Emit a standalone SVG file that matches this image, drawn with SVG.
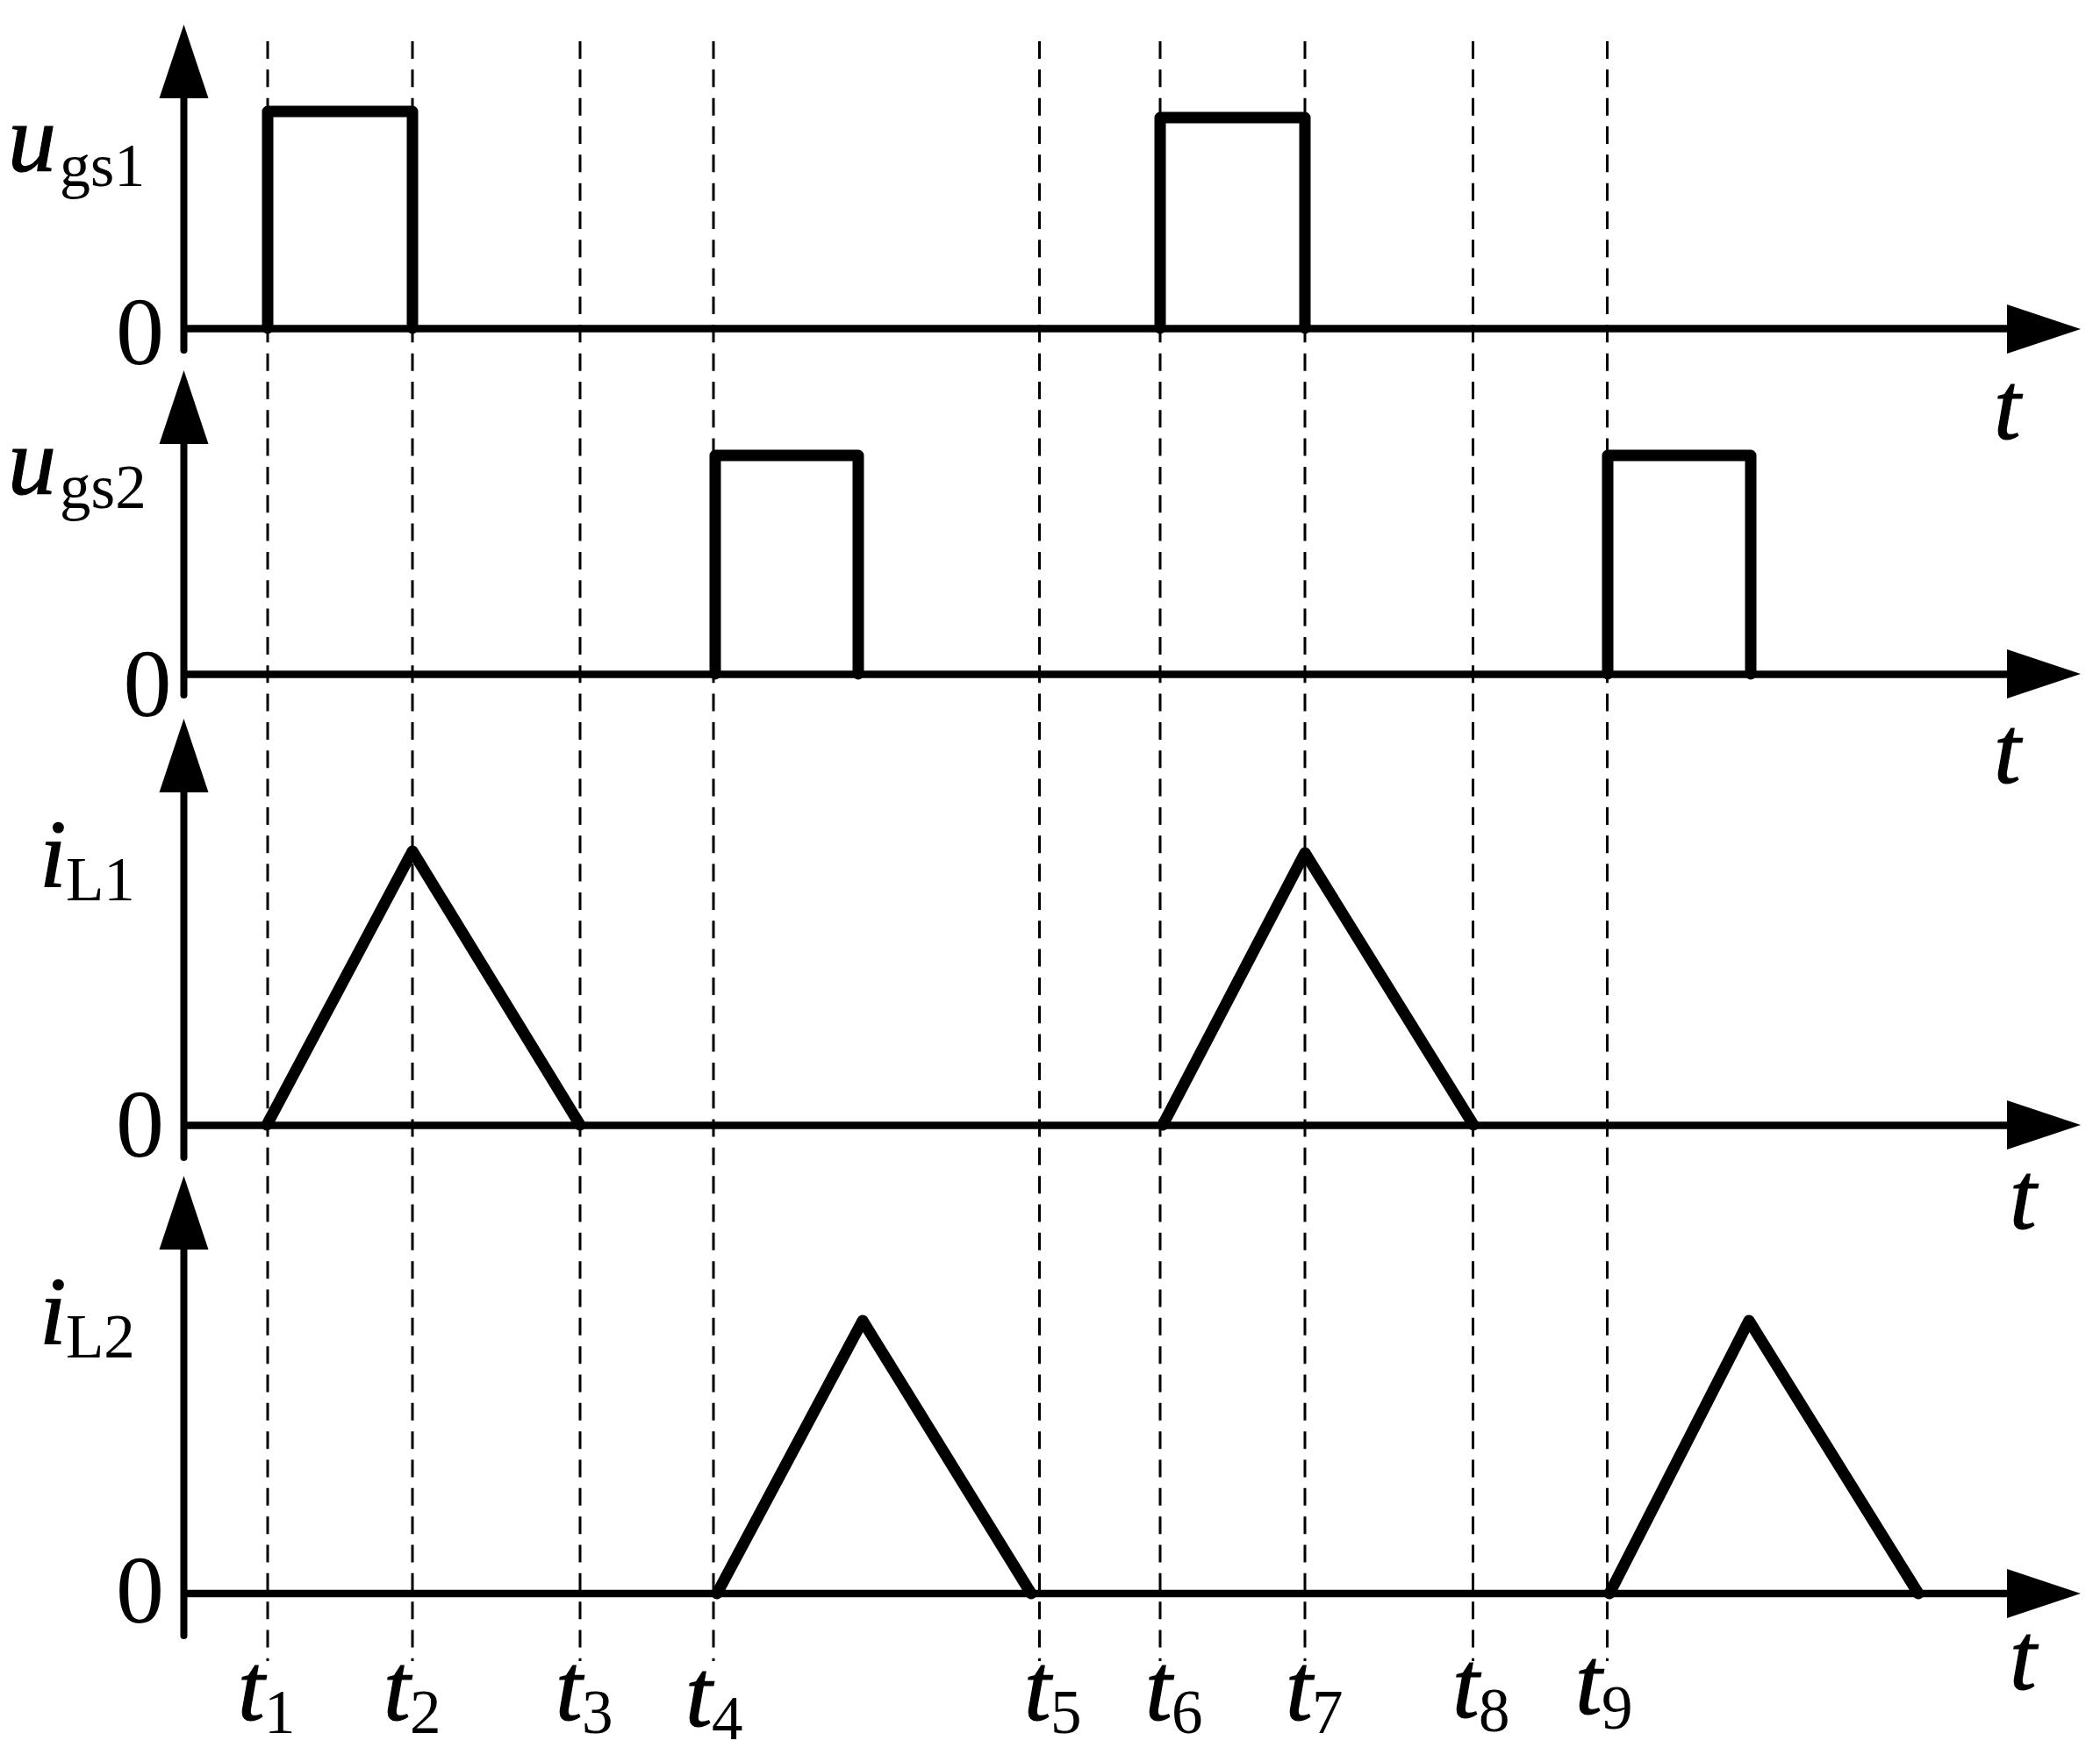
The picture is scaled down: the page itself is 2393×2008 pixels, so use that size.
<svg xmlns="http://www.w3.org/2000/svg" width="2393" height="2008" viewBox="0 0 2393 2008">
<style>
.d{stroke:#000;stroke-width:3;stroke-dasharray:20 12.330;fill:none}
.a{stroke:#000;stroke-width:8;fill:none;stroke-linecap:round}
.h{stroke:#000;stroke-width:8.500;fill:none}
.w{stroke:#000;stroke-width:13;fill:none;stroke-linejoin:round;stroke-linecap:round}
text{font-family:"Liberation Serif","Times New Roman",serif;fill:#000}
.m{font-size:110px;font-style:italic;stroke:#000;stroke-width:1.200}
.z{font-size:110px}
.s{font-size:71px}
</style>
<defs>
<polygon id="up" points="0,-84 28,0 -28,0" fill="#000"/>
<polygon id="rt" points="84,0 0,-28 0,28" fill="#000"/>
</defs>
<rect width="2393" height="2008" fill="#fff"/>
<g id="guides">
<path class="d" d="M305 47V1893M470 47V1893M661 47V1893M813 47V1893M1184.500 47V1893M1322 47V1893M1487 47V1893M1678.500 47V1893M1831.500 47V1893"/>
</g>
<g id="panel-ugs1">
<path class="a" d="M209.500 110V399"/><path class="h" d="M209.500 374.500H2290"/>
<use href="#up" x="209.500" y="112"/><use href="#rt" x="2287" y="375"/>
<path class="w" d="M305 374V127H470V374M1322 374V134H1487V374"/>
<text class="m" x="9" y="195">u</text><text class="s" style="font-size:70px" x="68" y="212">gs1</text>
<text class="z" x="132" y="415">0</text>
<text class="m" x="2272" y="500">t</text>
</g>
<g id="panel-ugs2">
<path class="a" d="M209.500 500V792"/><path class="h" d="M209.500 768.500H2290"/>
<use href="#up" x="209.500" y="506"/><use href="#rt" x="2287" y="768"/>
<path class="w" d="M815 768V519H978V768M1832 768V519H1995V768"/>
<text class="m" x="9" y="563">u</text><text class="s" x="68" y="579">gs2</text>
<text class="z" x="140.500" y="816">0</text>
<text class="m" x="2272" y="892">t</text>
</g>
<g id="panel-il1">
<path class="a" d="M209.500 900V1319"/><path class="h" d="M209.500 1282.500H2290"/>
<use href="#up" x="209.500" y="903"/><use href="#rt" x="2287" y="1282"/>
<path class="w" d="M304 1282L470 970L661 1282M1325 1282L1487 972L1679 1282"/>
<text class="m" x="45" y="1010">i</text><text class="s" x="75" y="1026">L1</text>
<text class="z" x="132" y="1318">0</text>
<text class="m" x="2290" y="1400">t</text>
</g>
<g id="panel-il2">
<path class="a" d="M209.500 1420V1864"/><path class="h" d="M209.500 1816H2290"/>
<use href="#up" x="209.500" y="1424"/><use href="#rt" x="2287" y="1816"/>
<path class="w" d="M817 1816L983 1505L1175 1816M1834 1816L1993 1505L2186 1816"/>
<text class="m" x="45" y="1531">i</text><text class="s" x="75" y="1547">L2</text>
<text class="z" x="132" y="1849">0</text>
<text class="m" x="2290" y="1925">t</text>
</g>
<g id="time-labels">
<text class="m" x="271" y="1960">t</text><text class="s" x="301" y="1975">1</text>
<text class="m" x="437" y="1960">t</text><text class="s" x="467" y="1975">2</text>
<text class="m" x="633" y="1960">t</text><text class="s" x="663" y="1975">3</text>
<text class="m" x="781" y="1967">t</text><text class="s" x="811" y="1982">4</text>
<text class="m" x="1167" y="1960">t</text><text class="s" x="1197" y="1975">5</text>
<text class="m" x="1305" y="1960">t</text><text class="s" x="1335" y="1975">6</text>
<text class="m" x="1465" y="1960">t</text><text class="s" x="1495" y="1975">7</text>
<text class="m" x="1655" y="1957">t</text><text class="s" x="1685" y="1973">8</text>
<text class="m" x="1795" y="1953">t</text><text class="s" x="1825" y="1970">9</text>
</g>
</svg>
